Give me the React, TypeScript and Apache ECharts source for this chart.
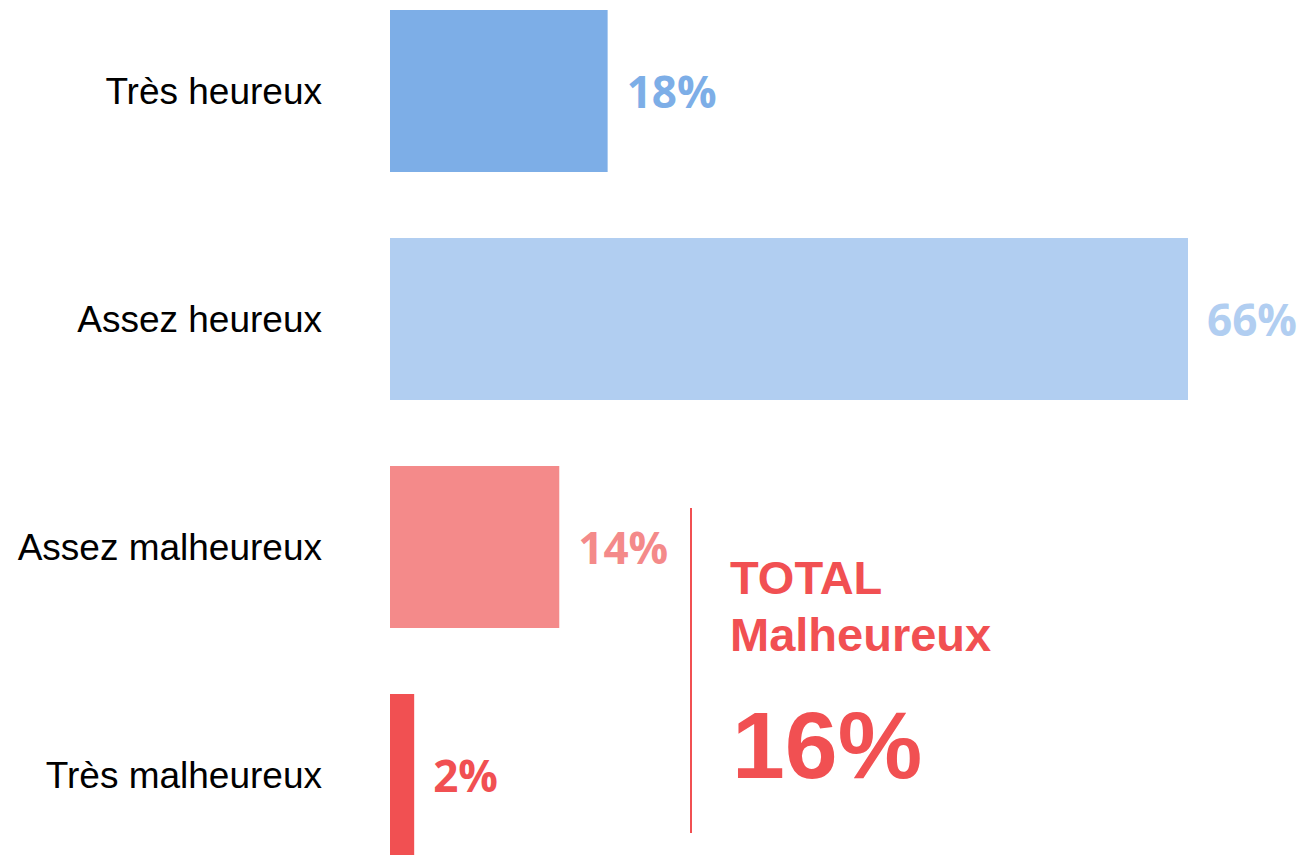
import React, { useEffect, useRef } from "react";
import * as echarts from "echarts";

const categories = ["Très heureux", "Assez heureux", "Assez malheureux", "Très malheureux"];
const values = [18, 66, 14, 2];
const barColors = ["#7DAEE7", "#B1CEF1", "#F48A8A", "#F15052"];
const totalTitle = ["TOTAL", "Malheureux"];
const totalValue = "16%";
const totalColor = "#F15052";

export default function App() {
  const ref = useRef<HTMLDivElement>(null);
  useEffect(() => {
    if (!ref.current) return;
    const chart = echarts.init(ref.current, null, { renderer: "svg" });
    chart.setOption({
      animation: false,
      grid: {
        left: 390,
        top: -23,
        width: 798,
        height: 912,
        containLabel: false,
        outerBoundsMode: "none",
      },
      xAxis: { type: "value", min: 0, max: 66, show: false },
      yAxis: {
        type: "category",
        data: categories,
        inverse: true,
        axisLine: { show: false },
        axisTick: { show: false },
        splitLine: { show: false },
        axisLabel: {
          margin: 68,
          fontSize: 37,
          color: "#000000",
          fontFamily: "Liberation Sans, Arial, sans-serif",
          padding: [0, 0, 6, 0],
        },
      },
      series: [
        {
          type: "bar",
          barWidth: 162,
          data: values.map((v, i) => ({
            value: v,
            itemStyle: { color: barColors[i] },
            label: { color: barColors[i] },
          })),
          label: {
            show: true,
            position: "right",
            distance: 19,
            formatter: "{c}%",
            fontSize: 44,
            fontWeight: "bold",
            fontFamily: "Open Sans, sans-serif",
            padding: [0, 0, 5, 0],
          },
        },
      ],
      graphic: [
        {
          type: "line",
          shape: { x1: 691, y1: 508, x2: 691, y2: 833 },
          style: { stroke: totalColor, lineWidth: 2 },
        },
        {
          type: "text",
          x: 730,
          y: 577,
          style: {
            text: totalTitle[0],
            fill: totalColor,
            font: "bold 47px 'Liberation Sans', Arial, sans-serif",
            verticalAlign: "middle",
            align: "left",
          },
        },
        {
          type: "text",
          x: 730,
          y: 634,
          style: {
            text: totalTitle[1],
            fill: totalColor,
            font: "bold 47px 'Liberation Sans', Arial, sans-serif",
            verticalAlign: "middle",
            align: "left",
          },
        },
        {
          type: "text",
          x: 732,
          y: 745,
          style: {
            text: totalValue,
            fill: totalColor,
            font: "bold 95px 'Liberation Sans', Arial, sans-serif",
            verticalAlign: "middle",
            align: "left",
          },
        },
      ],
    });
    return () => chart.dispose();
  }, []);
  return (
    <div
      ref={ref}
      style={{ position: "fixed", left: 0, top: 0, width: 1301, height: 855, background: "#ffffff" }}
    />
  );
}
